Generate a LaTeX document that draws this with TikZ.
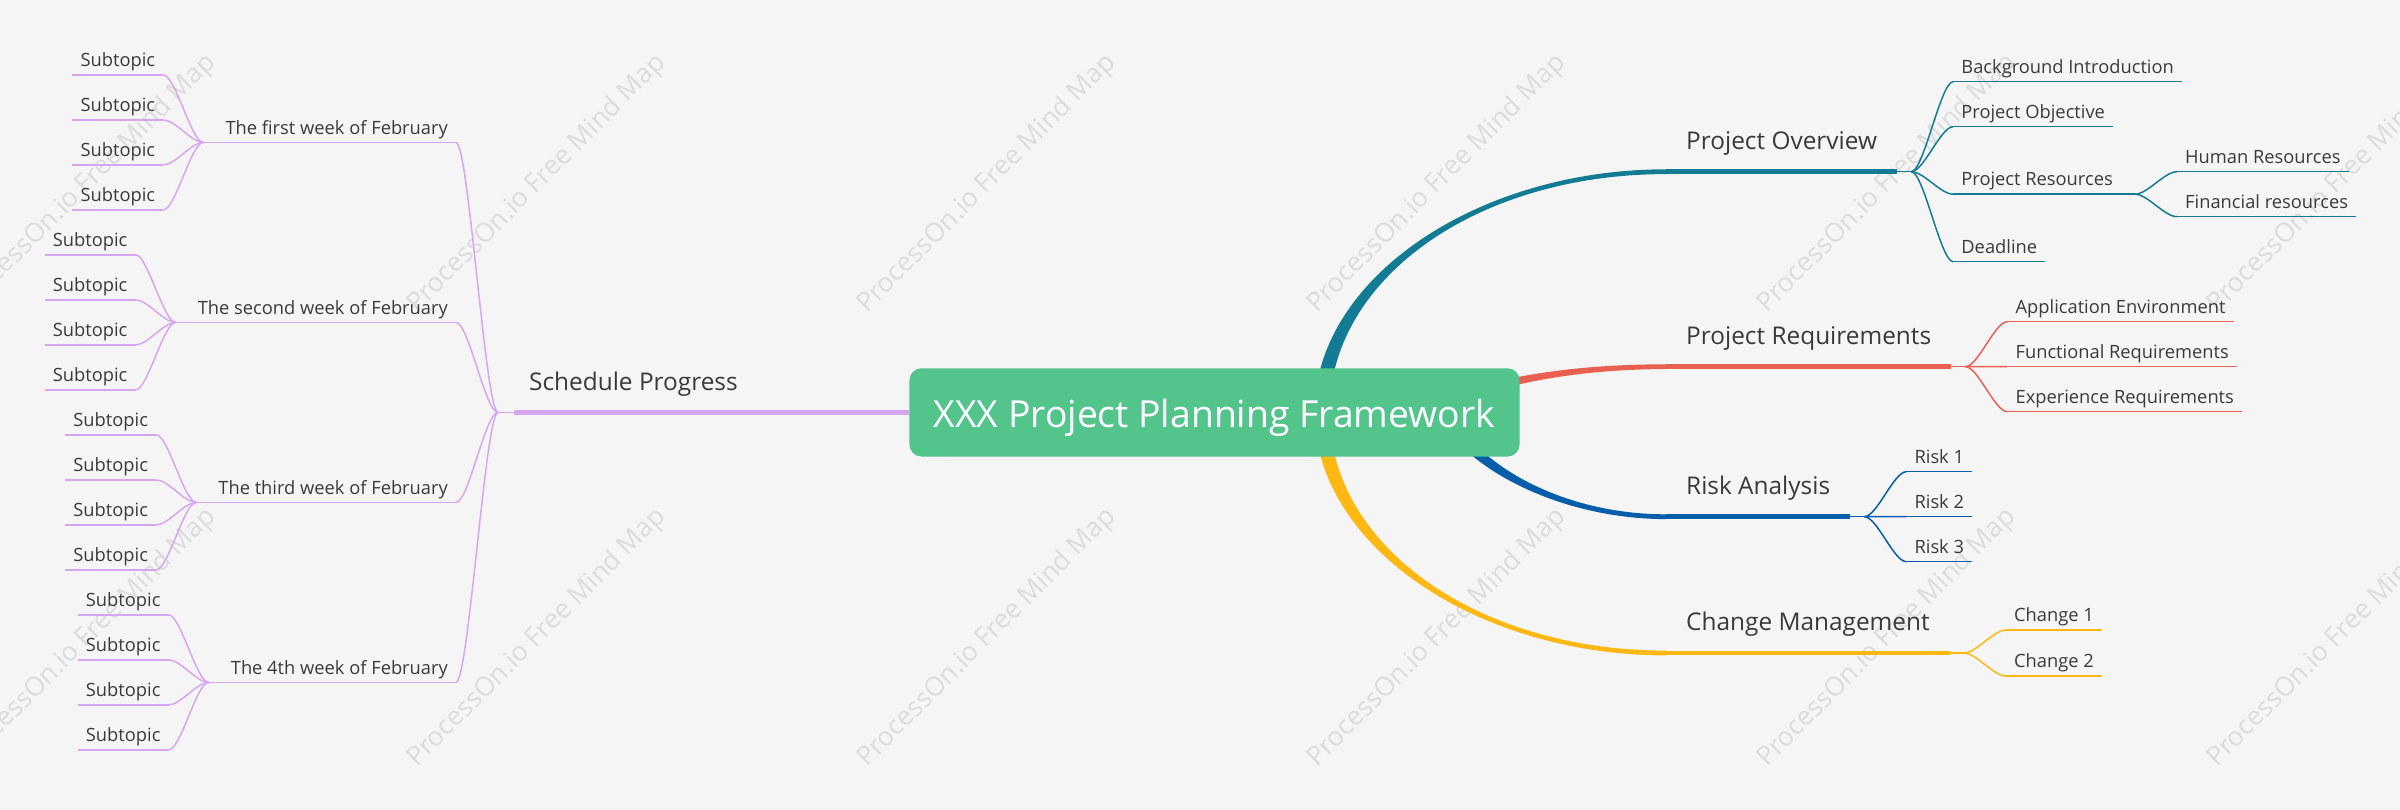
\documentclass[tikz,border=0pt]{standalone}
\usepackage{fontspec}
\setmainfont{Open Sans}
\usetikzlibrary{calc}
\definecolor{bgc}{HTML}{F5F5F5}
\definecolor{cgreen}{HTML}{52C48C}
\definecolor{cteal}{HTML}{137C94}
\definecolor{cred}{HTML}{E96050}
\definecolor{cblue}{HTML}{065DAA}
\definecolor{cyel}{HTML}{FDB813}
\definecolor{cpur}{HTML}{D7A6F0}
\definecolor{ctxt}{HTML}{3A3A3A}
\definecolor{cwm}{HTML}{DCDCDC}
% tapered branch: #1 colour, #2..#5 centre-line control points, #6 start half width, #7 end half width
\newcommand{\taperbranch}[7]{%
  \fill[#1] ($(#2)!#6!90:(#3)$) .. controls ($(#3)!#6!-90:(#2)$) and ($(#4)!#7!90:(#5)$) .. ($(#5)!#7!-90:(#4)$)
    -- ($(#5)!#7!90:(#4)$) .. controls ($(#4)!#7!-90:(#5)$) and ($(#3)!#6!90:(#2)$) .. ($(#2)!#6!-90:(#3)$) -- cycle;}
% thin S connector from fork #2 to child anchor #3
\newcommand{\sconn}[3]{%
  \draw[thinline,#1] (#2) .. controls ($(#2)!0.3!(#2 -| #3)$) and ($(#3)!0.3!(#3 -| #2)$) .. (#3);}
\newcommand{\uline}[3]{\draw[#1,#2] (#3.south west) -- (#3.south east);}
\begin{document}
\begin{tikzpicture}[x=1pt,y=-1pt,
  thinline/.style={line width=1.5pt},
  thickline/.style={line width=4.8pt},
  rootbox/.style={fill=cgreen, rounded corners=12pt, minimum width=610.2pt, minimum height=88.2pt,
    inner sep=0pt, text=white, text height=29.8pt, text depth=0pt, font=\fontsize{37.3}{44}\selectfont},
  mainR/.style={anchor=south west, inner xsep=20pt, inner ysep=22pt, text depth=0pt, text=ctxt,
    font=\fontsize{24.4}{29}\selectfont},
  mainL/.style={anchor=south west, inner xsep=15pt, inner ysep=22pt, text depth=0pt, text=ctxt,
    font=\fontsize{24.4}{29}\selectfont},
  leafR/.style={anchor=south west, inner xsep=8pt, inner ysep=8pt, text depth=0pt, text=ctxt,
    font=\fontsize{18.3}{22}\selectfont},
  leafL/.style={leafR, anchor=south east},
  wm/.style={text=cwm, inner sep=0pt, font=\fontsize{26.4}{30}\selectfont}]

\useasboundingbox (0,0) rectangle (2400,810);
\fill[bgc] (0,0) rectangle (2400,810);
\clip (0,0) rectangle (2400,810);

% watermark
\foreach \i/\wx/\wy in {1/87/184,2/537/184,3/987/184,4/1437/184,5/1887/184,6/2337/184,
                        7/87/638,8/537/638,9/987/638,10/1437/638,11/1887/638,12/2337/638}
  \node[wm, rotate=45] (wm\i) at (\wx,\wy) {ProcessOn.io Free Mind Map};

% right main topics
\node[mainR] (po) at (1666,171.7) {Project Overview};
\node[mainR] (pr) at (1666,366.7) {Project Requirements};
\node[mainR] (ra) at (1666,516.7) {Risk Analysis};
\node[mainR] (cm) at (1666,653) {Change Management};

% tapered branches from the root
\coordinate (t0) at (1322,412);  \coordinate (t1) at (1322,279.4); \coordinate (t2) at (1476,171.7);
\taperbranch{cteal}{t0}{t1}{t2}{po.south west}{7.5pt}{2.4pt}
\coordinate (r0) at (1420,412);  \coordinate (r1) at (1480,385);   \coordinate (r2) at (1560,366.7);
\taperbranch{cred}{r0}{r1}{r2}{pr.south west}{5pt}{2.4pt}
\coordinate (b0) at (1440,405);  \coordinate (b1) at (1465,465);   \coordinate (b2) at (1560,516.7);
\taperbranch{cblue}{b0}{b1}{b2}{ra.south west}{6.5pt}{2.4pt}
\coordinate (g0) at (1322,412);  \coordinate (g1) at (1322,545);   \coordinate (g2) at (1476,653);
\taperbranch{cyel}{g0}{g1}{g2}{cm.south west}{7.5pt}{2.4pt}

\uline{thickline}{cteal}{po}
\uline{thickline}{cred}{pr}
\uline{thickline}{cblue}{ra}
\uline{thickline}{cyel}{cm}

% root
\node[rootbox] (root) at (1214.5,412.4) {XXX Project Planning Framework};

% ---------- Project Overview
\coordinate (pof) at ($(po.south east)+(14,0)$);
\draw[thinline,cteal] (po.south east) -- (pof);
\node[leafR] (bi)   at ($(pof)+(42,-90)$)  {Background Introduction};
\node[leafR] (pobj) at ($(pof)+(42,-45)$)  {Project Objective};
\node[leafR] (pres) at ($(pof)+(42,22.5)$) {Project Resources};
\node[leafR] (dl)   at ($(pof)+(42,90)$)   {Deadline};
\foreach \n in {bi,pobj,pres,dl} {\sconn{cteal}{pof}{\n.south west} \uline{thinline}{cteal}{\n}}
\coordinate (presf) at ($(pres.south east)+(14,0)$);
\draw[thinline,cteal] (pres.south east) -- (presf);
\node[leafR] (hr) at ($(presf)+(42,-22.5)$) {Human Resources};
\node[leafR] (fr) at ($(presf)+(42,22.5)$)  {Financial resources};
\foreach \n in {hr,fr} {\sconn{cteal}{presf}{\n.south west} \uline{thinline}{cteal}{\n}}

% ---------- Project Requirements
\coordinate (prf) at ($(pr.south east)+(14,0)$);
\draw[thinline,cred] (pr.south east) -- (prf);
\node[leafR] (ae) at ($(prf)+(42,-45)$) {Application Environment};
\node[leafR] (fq) at ($(prf)+(42,0)$)   {Functional Requirements};
\node[leafR] (eq) at ($(prf)+(42,45)$)  {Experience Requirements};
\foreach \n in {ae,fq,eq} {\sconn{cred}{prf}{\n.south west} \uline{thinline}{cred}{\n}}

% ---------- Risk Analysis
\coordinate (raf) at ($(ra.south east)+(14,0)$);
\draw[thinline,cblue] (ra.south east) -- (raf);
\node[leafR] (rk1) at ($(raf)+(42,-45)$) {Risk 1};
\node[leafR] (rk2) at ($(raf)+(42,0)$)   {Risk 2};
\node[leafR] (rk3) at ($(raf)+(42,45)$)  {Risk 3};
\foreach \n in {rk1,rk2,rk3} {\sconn{cblue}{raf}{\n.south west} \uline{thinline}{cblue}{\n}}

% ---------- Change Management
\coordinate (cmf) at ($(cm.south east)+(14,0)$);
\draw[thinline,cyel] (cm.south east) -- (cmf);
\node[leafR] (ch1) at ($(cmf)+(42,-23)$) {Change 1};
\node[leafR] (ch2) at ($(cmf)+(42,23)$)  {Change 2};
\foreach \n in {ch1,ch2} {\sconn{cyel}{cmf}{\n.south west} \uline{thinline}{cyel}{\n}}

% ---------- Schedule Progress (left)
\node[mainL] (sp) at (514,412.4) {Schedule Progress};
\draw[thickline,cpur] (sp.south west) -- (sp.south east) -- (root.west);
\coordinate (spf) at ($(sp.south west)+(-16,0)$);
\draw[thinline,cpur] (sp.south west) -- (spf);
\node[leafL] (w1) at ($(spf)+(-42,-270)$) {The first week of February};
\node[leafL] (w2) at ($(spf)+(-42,-90)$)  {The second week of February};
\node[leafL] (w3) at ($(spf)+(-42,90)$)   {The third week of February};
\node[leafL] (w4) at ($(spf)+(-42,270)$)  {The 4th week of February};
\foreach \w in {w1,w2,w3,w4} {
  \sconn{cpur}{spf}{\w.south east}
  \uline{thinline}{cpur}{\w}
  \coordinate (\w f) at ($(\w.south west)+(-14,0)$);
  \draw[thinline,cpur] (\w.south west) -- (\w f);
  \foreach \k/\dy in {1/-67.5,2/-22.5,3/22.5,4/67.5} {
    \node[leafL] (\w s\k) at ($(\w f)+(-40,\dy)$) {Subtopic};
    \sconn{cpur}{\w f}{\w s\k.south east}
    \uline{thinline}{cpur}{\w s\k}
  }
}
\end{tikzpicture}
\end{document}
